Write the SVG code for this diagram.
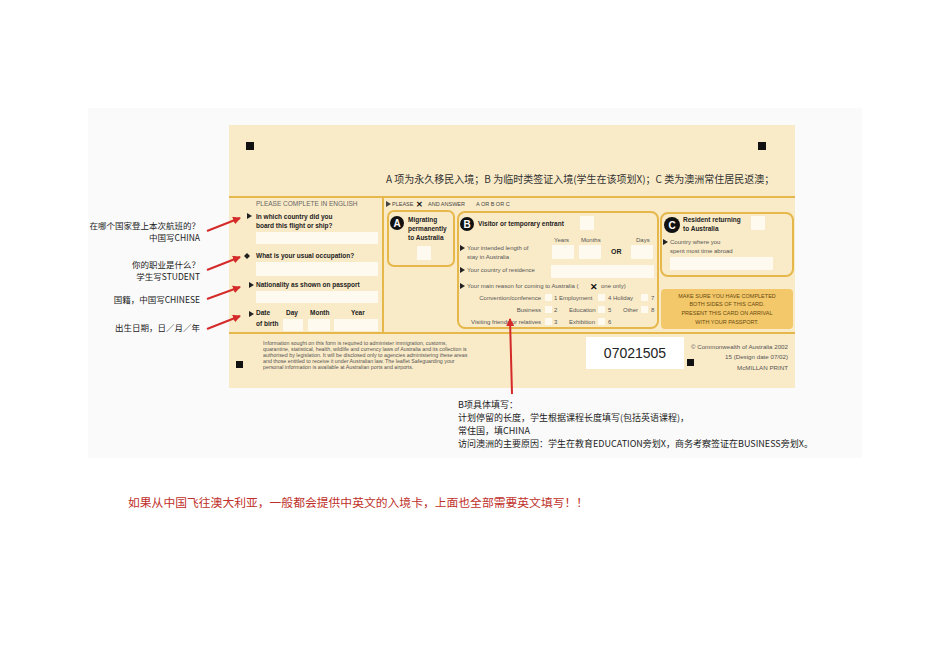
<svg xmlns="http://www.w3.org/2000/svg" width="950" height="672" viewBox="0 0 950 672">
<defs>
<style>
.s{font-family:"Liberation Sans","Noto Sans CJK SC",sans-serif}
.b{font-weight:bold}
.cn{font-family:"Noto Sans CJK SC","Liberation Sans",sans-serif}
.box{fill:none;stroke:#e6b84c;stroke-width:2}
.w{fill:#fffaf0}
.sq{fill:#111}
.arr{stroke:#d42a2a;stroke-width:2;fill:none;marker-end:url(#ah)}
</style>
<marker id="ah" markerWidth="8" markerHeight="8" refX="7" refY="4" orient="auto" markerUnits="userSpaceOnUse"><path d="M0,0L8,4L0,8z" fill="#d42a2a"/></marker>
</defs>
<rect width="950" height="672" fill="#fff"/>
<rect x="88" y="108" width="774" height="350" fill="#fafafa"/>
<g id="card">
<rect x="229" y="125" width="566" height="263" fill="#faebc8"/>
<line x1="229" y1="197" x2="795" y2="197" stroke="#e6b84c" stroke-width="2"/>
<line x1="229" y1="333" x2="795" y2="333" stroke="#e6b84c" stroke-width="2"/>
<line x1="383" y1="197" x2="383" y2="333" stroke="#e6b84c" stroke-width="2"/>
<rect class="sq" x="246" y="142" width="8" height="8"/>
<rect class="sq" x="758" y="142" width="8" height="8"/>
<rect class="sq" x="236" y="361" width="7" height="7"/>
<rect class="sq" x="687" y="359" width="7" height="7"/>
<text class="cn" x="386" y="183" font-size="10" fill="#333">A 项为永久移民入境；B 为临时类签证入境(学生在该项划X)；C 类为澳洲常住居民返澳；</text>
</g>
<g id="left" class="s" fill="#222">
<text x="256" y="206" font-size="6.5" fill="#666">PLEASE COMPLETE IN ENGLISH</text>
<path d="M247,213l5,3l-5,3z"/>
<text class="b" x="256" y="219" font-size="6.5">In which country did you</text>
<text class="b" x="256" y="228" font-size="6.5">board this flight or ship?</text>
<rect class="w" x="256" y="232" width="122" height="12"/>
<path d="M244,256l3,-3l3,3l-3,3z"/>
<text class="b" x="256" y="258" font-size="6.5">What is your usual occupation?</text>
<rect class="w" x="256" y="262" width="122" height="14"/>
<path d="M249,282l5,3l-5,3z"/>
<text class="b" x="256" y="287" font-size="6.5">Nationality as shown on passport</text>
<rect class="w" x="256" y="291" width="122" height="12"/>
<path d="M249,311l5,3l-5,3z"/>
<text class="b" x="256" y="315" font-size="6.5">Date</text>
<text class="b" x="286" y="315" font-size="6.5">Day</text>
<text class="b" x="310" y="315" font-size="6.5">Month</text>
<text class="b" x="351" y="315" font-size="6.5">Year</text>
<text class="b" x="256" y="326" font-size="6.5">of birth</text>
<rect class="w" x="283" y="319" width="20" height="12"/>
<rect class="w" x="308" y="319" width="22" height="12"/>
<rect class="w" x="334" y="319" width="44" height="12"/>
</g>
<g id="header" class="s" fill="#444">
<path d="M386,201l5,3l-5,3z"/>
<text x="392" y="206" font-size="5.5">PLEASE</text>
<text x="416" y="207" font-size="8" class="b" fill="#111">✕</text>
<text x="428" y="206" font-size="5.5">AND ANSWER</text>
<text x="476" y="206" font-size="5.5">A OR B  OR C</text>
</g>
<g id="A" class="s">
<rect class="box" x="388" y="211" width="66" height="55" rx="6"/>
<circle cx="397" cy="223" r="7" fill="#111"/>
<text x="397" y="227" font-size="10" class="b" fill="#fff" text-anchor="middle">A</text>
<text x="408" y="222" font-size="6.5" class="b" fill="#222">Migrating</text>
<text x="408" y="231" font-size="6.5" class="b" fill="#222">permanently</text>
<text x="408" y="240" font-size="6.5" class="b" fill="#222">to Australia</text>
<rect class="w" x="417" y="246" width="14" height="14"/>
</g>
<g id="B" class="s" fill="#555">
<rect class="box" x="458" y="212" width="200" height="116" rx="7"/>
<circle cx="467" cy="224" r="7" fill="#111"/>
<text x="467" y="228" font-size="10" class="b" fill="#fff" text-anchor="middle">B</text>
<text x="478" y="226" font-size="6.5" class="b" fill="#222">Visitor or temporary entrant</text>
<rect class="w" x="580" y="216" width="14" height="14"/>
<text x="554" y="242" font-size="6">Years</text>
<text x="581" y="242" font-size="6">Months</text>
<text x="636" y="242" font-size="6">Days</text>
<path d="M460,245l5,3l-5,3z" fill="#222"/>
<text x="467" y="250" font-size="6">Your intended length of</text>
<text x="467" y="259" font-size="6">stay in Australia</text>
<rect class="w" x="552" y="245" width="22" height="14"/>
<rect class="w" x="579" y="245" width="22" height="14"/>
<text x="611" y="254" font-size="7" class="b" fill="#222">OR</text>
<rect class="w" x="631" y="245" width="22" height="14"/>
<path d="M460,267l5,3l-5,3z" fill="#222"/>
<text x="467" y="272" font-size="6">Your country of residence</text>
<rect class="w" x="551" y="265" width="103" height="13"/>
<path d="M460,283l5,3l-5,3z" fill="#222"/>
<text x="467" y="288" font-size="6">Your main reason for coming to Australia (</text>
<text x="590" y="290" font-size="9" class="b" fill="#111">✕</text>
<text x="601" y="288" font-size="6">one only)</text>
<text x="541" y="300" font-size="6" text-anchor="end">Convention/conference</text>
<rect class="w" x="545" y="294" width="7" height="7"/><text x="554" y="300" font-size="6">1  Employment</text>
<rect class="w" x="598" y="294" width="7" height="7"/><text x="608" y="300" font-size="6">4  Holiday</text>
<rect class="w" x="641" y="294" width="7" height="7"/><text x="651" y="300" font-size="6">7</text>
<text x="541" y="312" font-size="6" text-anchor="end">Business</text>
<rect class="w" x="545" y="306" width="7" height="7"/><text x="554" y="312" font-size="6">2</text>
<text x="569" y="312" font-size="6">Education</text>
<rect class="w" x="598" y="306" width="7" height="7"/><text x="608" y="312" font-size="6">5</text>
<text x="623" y="312" font-size="6">Other</text>
<rect class="w" x="641" y="306" width="7" height="7"/><text x="651" y="312" font-size="6">8</text>
<text x="541" y="324" font-size="6" text-anchor="end">Visiting friends or relatives</text>
<rect class="w" x="545" y="318" width="7" height="7"/><text x="554" y="324" font-size="6">3</text>
<text x="569" y="324" font-size="6">Exhibition</text>
<rect class="w" x="598" y="318" width="7" height="7"/><text x="608" y="324" font-size="6">6</text>
</g>
<g id="C" class="s" fill="#555">
<rect class="box" x="661" y="213" width="132" height="63" rx="7"/>
<circle cx="672" cy="225" r="8" fill="#111"/>
<text x="672" y="229" font-size="10" class="b" fill="#fff" text-anchor="middle">C</text>
<text x="683" y="222" font-size="6.5" class="b" fill="#222">Resident returning</text>
<text x="683" y="231" font-size="6.5" class="b" fill="#222">to Australia</text>
<rect class="w" x="751" y="216" width="14" height="14"/>
<path d="M663,239l5,3l-5,3z" fill="#222"/>
<text x="670" y="244" font-size="6">Country where you</text>
<text x="670" y="253" font-size="6">spent most time abroad</text>
<rect class="w" x="670" y="257" width="103" height="13"/>
</g>
<g id="notice" class="s">
<rect x="661" y="289" width="132" height="40" rx="4" fill="#f3c86a"/>
<text x="727" y="298" font-size="5.5" fill="#6a4a10" text-anchor="middle">MAKE SURE YOU HAVE COMPLETED</text>
<text x="727" y="306" font-size="5.5" fill="#6a4a10" text-anchor="middle">BOTH SIDES OF THIS CARD.</text>
<text x="727" y="315" font-size="5.5" fill="#6a4a10" text-anchor="middle">PRESENT THIS CARD ON ARRIVAL</text>
<text x="727" y="324" font-size="5.5" fill="#6a4a10" text-anchor="middle">WITH YOUR PASSPORT.</text>
</g>
<g id="footer" class="s" fill="#555" font-size="5.3">
<text x="263" y="345">Information sought on this form is required to administer immigration, customs,</text>
<text x="263" y="351">quarantine, statistical, health, wildlife and currency laws of Australia and its collection is</text>
<text x="263" y="357">authorised by legislation. It will be disclosed only to agencies administering these areas</text>
<text x="263" y="363">and those entitled to receive it under Australian law. The leaflet Safeguarding your</text>
<text x="263" y="369">personal information is available at Australian ports and airports.</text>
<rect x="586" y="337" width="98" height="32" fill="#fff"/>
<text x="635" y="358" font-size="14" fill="#222" text-anchor="middle">07021505</text>
<text x="788" y="349" font-size="6.2" text-anchor="end">© Commonwealth of Australia 2002</text>
<text x="788" y="359" font-size="6.2" text-anchor="end">15 (Design date 07/02)</text>
<text x="788" y="370" font-size="6.2" text-anchor="end">McMILLAN PRINT</text>
</g>
<g id="annotations" class="cn" fill="#222" font-size="8.5" text-anchor="end">
<text x="200" y="229">在哪个国家登上本次航班的？</text>
<text x="200" y="241">中国写CHINA</text>
<text x="200" y="268">你的职业是什么？</text>
<text x="200" y="280">学生写STUDENT</text>
<text x="200" y="303">国籍，中国写CHINESE</text>
<text x="200" y="331">出生日期，日／月／年</text>
</g>
<g id="connectors">
<line class="arr" x1="207" y1="231" x2="240" y2="218"/>
<line class="arr" x1="207" y1="270" x2="240" y2="257"/>
<line class="arr" x1="207" y1="299" x2="240" y2="287"/>
<line class="arr" x1="207" y1="329" x2="240" y2="316"/>
<line class="arr" x1="512" y1="394" x2="510" y2="319"/>
</g>
<g id="bnote" class="cn" fill="#222" font-size="9">
<text x="458" y="408">B项具体填写：</text>
<text x="458" y="421">计划停留的长度，学生根据课程长度填写(包括英语课程)，</text>
<text x="458" y="434">常住国，填CHINA</text>
<text x="458" y="447">访问澳洲的主要原因：学生在教育EDUCATION旁划X，商务考察签证在BUSINESS旁划X。</text>
</g>
<text x="128" y="507" font-size="11.8" fill="#c0302a" font-family="Noto Sans CJK SC, serif">如果从中国飞往澳大利亚，一般都会提供中英文的入境卡，上面也全部需要英文填写！！</text>
</svg>
